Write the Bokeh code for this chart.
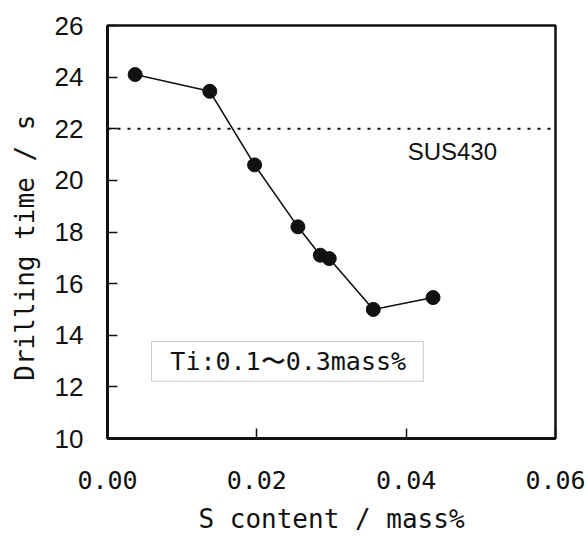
from bokeh.plotting import figure
from bokeh.models import Label, BoxAnnotation, Span, FixedTicker
from bokeh.embed import file_html
from bokeh.resources import INLINE

s_content = [0.0037, 0.0137, 0.0197, 0.0255, 0.0285, 0.0297, 0.0356, 0.0436]
drill_time = [24.1, 23.45, 20.6, 18.2, 17.1, 16.97, 15.0, 15.46]
sus430_time = 22.0
x_ticks = [0.0, 0.02, 0.04, 0.06]
x_tick_labels = {0.0: "0.00", 0.02: "0.02", 0.04: "0.04", 0.06: "0.06"}
y_ticks = [10, 12, 14, 16, 18, 20, 22, 24, 26]

p = figure(width=588, height=536, x_range=(0, 0.06), y_range=(10, 26),
           output_backend="svg", toolbar_location=None,
           min_border_left=107, min_border_right=33, min_border_top=25, min_border_bottom=97)
p.background_fill_color = "white"
p.border_fill_color = "white"
p.grid.visible = False
p.outline_line_color = "#111111"
p.outline_line_width = 2.5

mono = "DejaVu Sans Mono"
sans = "Liberation Sans"

p.xaxis.ticker = FixedTicker(ticks=x_ticks)
p.xaxis.major_label_overrides = x_tick_labels
p.yaxis.ticker = FixedTicker(ticks=y_ticks)
for ax in (p.xaxis[0], p.yaxis[0]):
    ax.axis_line_width = 3
    ax.axis_line_color = "#111111"
    ax.major_tick_in = 10
    ax.major_tick_out = 0
    ax.major_tick_line_width = 1.5
    ax.major_tick_line_color = "#111111"
    ax.minor_tick_line_color = None
    ax.major_label_text_color = "#111111"
    ax.axis_label_text_color = "#111111"
    ax.axis_label_text_font_style = "normal"

p.xaxis.major_label_text_font = mono
p.xaxis.major_label_text_font_size = "25px"
p.xaxis.major_label_standoff = 32
p.xaxis.axis_label = "S content / mass%"
p.xaxis.axis_label_text_font = mono
p.xaxis.axis_label_text_font_size = "26px"
p.xaxis.axis_label_standoff = 12

p.yaxis.major_label_text_font = sans
p.yaxis.major_label_text_font_size = "26px"
p.yaxis.major_label_standoff = 24
p.yaxis.axis_label = "Drilling time / s\u00a0\u00a0"
p.yaxis.axis_label_text_font = mono
p.yaxis.axis_label_text_font_size = "26px"
p.yaxis.axis_label_standoff = 12

p.add_layout(Span(location=sus430_time, dimension="width", line_color="#111111",
                  line_width=2, line_dash="3 7"))

p.line(s_content, drill_time, line_color="#111111", line_width=1.6)
p.scatter(s_content, drill_time, size=14, color="#111111")

p.add_layout(Label(x=0.0402, y=21.1, text="SUS430", text_font=sans, text_font_size="24px",
                   text_color="#111111", text_baseline="middle"))

p.add_layout(BoxAnnotation(left=0.0059, right=0.0423, bottom=12.22, top=13.76,
                           fill_alpha=0, line_color="#555555", line_width=1))
p.add_layout(Label(x=0.0242, y=12.99, text="Ti:0.1〜0.3mass%", text_font=mono,
                   text_font_size="25px", text_color="#111111",
                   text_align="center", text_baseline="middle"))

open("out.html", "w").write(file_html(p, INLINE))
